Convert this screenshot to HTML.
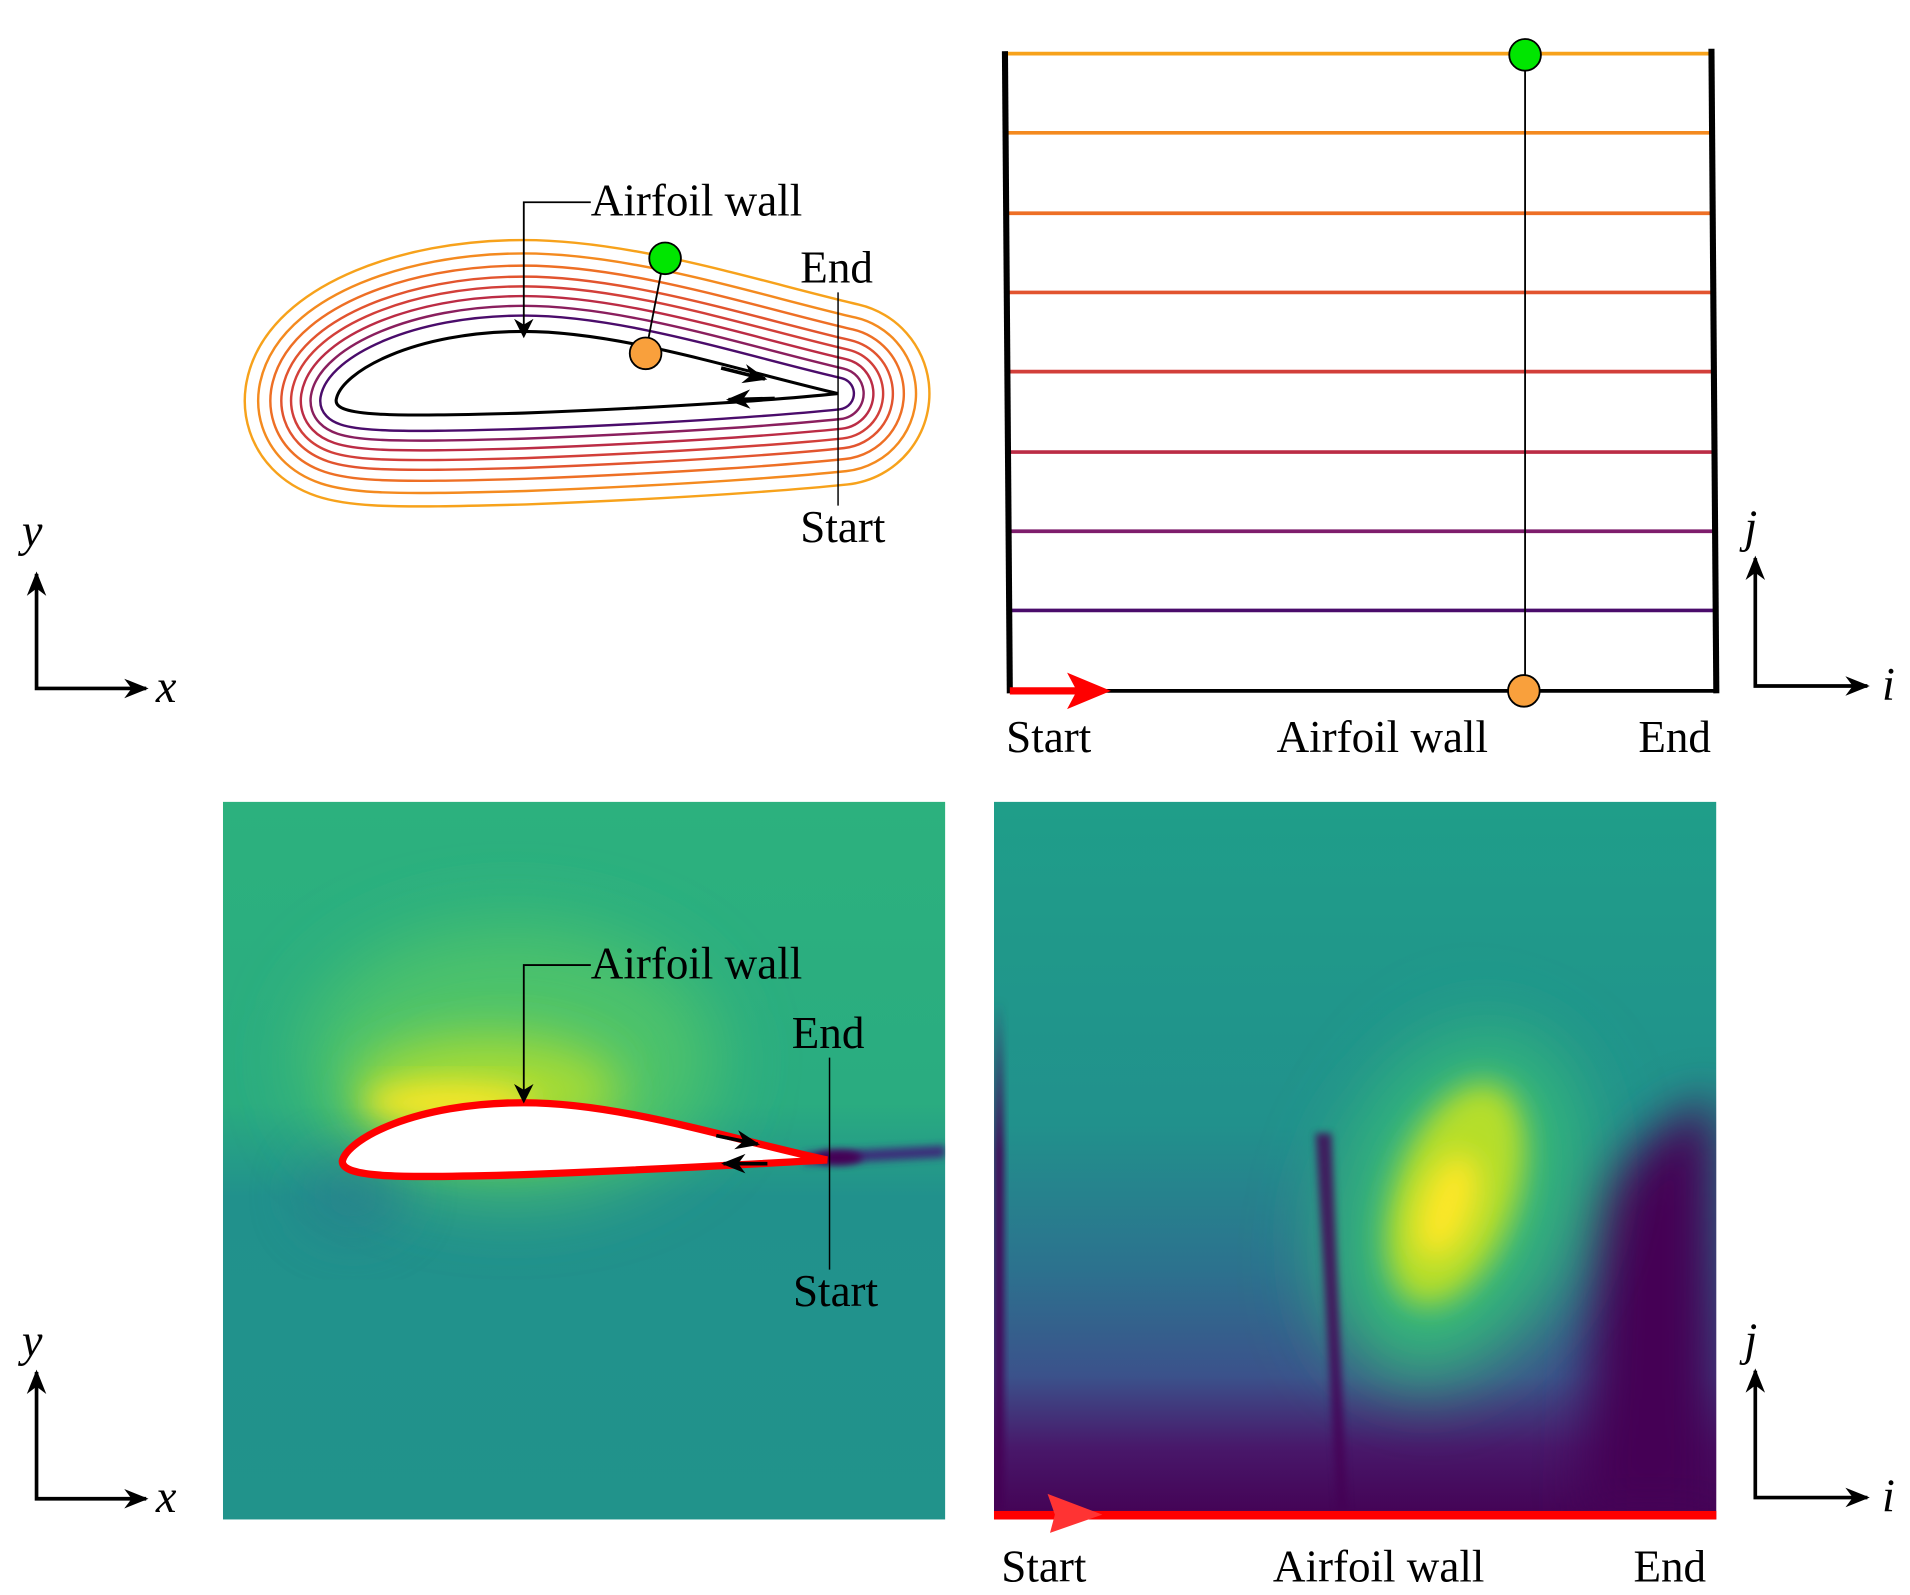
<!DOCTYPE html>
<html><head><style>html,body{margin:0;padding:0;background:#fff}svg{display:block}</style></head>
<body>
<svg width="1910" height="1595" viewBox="0 0 1568 1309" preserveAspectRatio="none" xmlns="http://www.w3.org/2000/svg" style="font-family:'Liberation Serif',serif">
<defs>
<path id="af" d="M688,323 C610,305 510,272 430,272 C340,272 280,305 276,328 C274,342 320,342 430,339 C560,334 650,327 688,323 Z"/>
<path id="af2" d="M679,952 C600,935 510,905 430,905 C340,905 285,935 281,953 C281,967 330,967 430,964 C560,959 640,954 679,952 Z"/>
<marker id="ah" viewBox="0 0 10 10" refX="9" refY="5" markerWidth="20" markerHeight="20" orient="auto-start-reverse" markerUnits="userSpaceOnUse"><path d="M0,1 L10,5 L0,9 L3,5z" fill="#000"/></marker>
<marker id="ah2" viewBox="0 0 10 10" refX="9" refY="5" markerWidth="16" markerHeight="16" orient="auto-start-reverse" markerUnits="userSpaceOnUse"><path d="M0,0 L10,5 L0,10 L3,5z" fill="#000"/></marker>
<filter id="b1" x="-50%" y="-50%" width="200%" height="200%"><feGaussianBlur stdDeviation="30"/></filter>
<filter id="b2" x="-50%" y="-50%" width="200%" height="200%"><feGaussianBlur stdDeviation="12"/></filter>
<filter id="b4" x="-50%" y="-50%" width="200%" height="200%"><feGaussianBlur stdDeviation="20"/></filter>
<filter id="b3" x="-50%" y="-50%" width="200%" height="200%"><feGaussianBlur stdDeviation="3"/></filter>
<clipPath id="cL"><rect x="183" y="658" width="593" height="589"/></clipPath>
<clipPath id="cR"><rect x="816" y="658" width="593" height="589"/></clipPath>
<linearGradient id="gL" x1="0" y1="0" x2="0" y2="1"><stop offset="0" stop-color="#2cb17e"/><stop offset="0.42" stop-color="#2aac80"/><stop offset="0.55" stop-color="#21918c"/><stop offset="1" stop-color="#21938b"/></linearGradient>
<linearGradient id="gR" x1="0" y1="0" x2="0" y2="1"><stop offset="0" stop-color="#1f9e89"/><stop offset="0.45" stop-color="#21918c"/><stop offset="0.65" stop-color="#2c728e"/><stop offset="0.8" stop-color="#3b528b"/><stop offset="0.9" stop-color="#48186a"/><stop offset="1" stop-color="#440154"/></linearGradient>
<linearGradient id="gS" x1="0" y1="0" x2="0" y2="1"><stop offset="0" stop-color="#440154" stop-opacity="0"/><stop offset="0.3" stop-color="#440154" stop-opacity="1"/></linearGradient>
</defs>

<g fill="none" stroke-linejoin="round">
<use href="#af" stroke="#f7a21b" stroke-width="152"/><use href="#af" stroke="#fff" stroke-width="148"/>
<use href="#af" stroke="#f48a1f" stroke-width="130"/><use href="#af" stroke="#fff" stroke-width="126"/>
<use href="#af" stroke="#ee6f25" stroke-width="110"/><use href="#af" stroke="#fff" stroke-width="106"/>
<use href="#af" stroke="#e2542f" stroke-width="92"/><use href="#af" stroke="#fff" stroke-width="88"/>
<use href="#af" stroke="#d23f3a" stroke-width="76"/><use href="#af" stroke="#fff" stroke-width="72"/>
<use href="#af" stroke="#bb2c45" stroke-width="60"/><use href="#af" stroke="#fff" stroke-width="56"/>
<use href="#af" stroke="#8a1f5e" stroke-width="44"/><use href="#af" stroke="#fff" stroke-width="40"/>
<use href="#af" stroke="#4a0c6b" stroke-width="28"/><use href="#af" stroke="#fff" stroke-width="24"/>
</g>
<use href="#af" fill="#fff" stroke="#000" stroke-width="2.5"/>
<line x1="592" y1="302" x2="628" y2="311" stroke="#000" stroke-width="3" marker-end="url(#ah)"/>
<line x1="636" y1="327" x2="598" y2="328" stroke="#000" stroke-width="3" marker-end="url(#ah)"/>
<polyline points="485,166 430,166 430,276" fill="none" stroke="#000" stroke-width="1.5" marker-end="url(#ah2)"/>
<text x="485" y="177" font-size="37">Airfoil wall</text>
<text x="657" y="232" font-size="37">End</text>
<text x="657" y="445" font-size="37">Start</text>
<line x1="688" y1="240" x2="688" y2="415" stroke="#000" stroke-width="1.2"/>
<line x1="530" y1="290" x2="545" y2="212" stroke="#000" stroke-width="1.5"/>
<circle cx="530" cy="290" r="13" fill="#f9a03c" stroke="#000" stroke-width="1.5"/>
<circle cx="546" cy="212" r="13" fill="#00e600" stroke="#000" stroke-width="1.5"/>

<g stroke="#000" stroke-width="3" fill="none">
<polyline points="30,471 30,565 120,565" marker-start="url(#ah)" marker-end="url(#ah)"/>
<polyline points="30,1126 30,1230 120,1230" marker-start="url(#ah)" marker-end="url(#ah)"/>
<polyline points="1441,458 1441,563 1533,563" marker-start="url(#ah)" marker-end="url(#ah)"/>
<polyline points="1441,1125 1441,1229 1533,1229" marker-start="url(#ah)" marker-end="url(#ah)"/>
</g>
<g font-size="38" font-style="italic">
<text x="18" y="448">y</text><text x="128" y="576">x</text>
<text x="18" y="1113">y</text><text x="128" y="1241">x</text>
<text x="1432" y="445">j</text><text x="1545" y="574">i</text>
<text x="1432" y="1112">j</text><text x="1545" y="1240">i</text>
</g>

<g stroke-width="3">
<line x1="826" y1="44" x2="1404" y2="44" stroke="#f7a21b"/>
<line x1="826" y1="109" x2="1404" y2="109" stroke="#f48a1f"/>
<line x1="826" y1="175" x2="1404" y2="175" stroke="#ee6f25"/>
<line x1="826" y1="240" x2="1405" y2="240" stroke="#e2542f"/>
<line x1="827" y1="305" x2="1405" y2="305" stroke="#d23f3a"/>
<line x1="827" y1="371" x2="1406" y2="371" stroke="#bb2c45"/>
<line x1="828" y1="436" x2="1406" y2="436" stroke="#7e1d6c"/>
<line x1="828" y1="501" x2="1407" y2="501" stroke="#4a0c6b"/>
</g>
<line x1="829" y1="567" x2="1409" y2="567" stroke="#000" stroke-width="3"/>
<line x1="825" y1="42" x2="829" y2="569" stroke="#000" stroke-width="5"/>
<line x1="1405" y1="40" x2="1409" y2="569" stroke="#000" stroke-width="5"/>
<line x1="1252" y1="45" x2="1252" y2="567" stroke="#000" stroke-width="1.5"/>
<line x1="829" y1="567" x2="890" y2="567" stroke="#f00" stroke-width="6"/>
<path d="M876,552 L912,567 L876,582 L884,567z" fill="#f00"/>
<circle cx="1252" cy="45" r="13" fill="#00e600" stroke="#000" stroke-width="1.5"/>
<circle cx="1251" cy="567" r="13" fill="#f9a03c" stroke="#000" stroke-width="1.5"/>
<g font-size="37"><text x="826" y="617">Start</text><text x="1048" y="617">Airfoil wall</text><text x="1345" y="617">End</text></g>

<g clip-path="url(#cL)">
<rect x="183" y="658" width="593" height="589" fill="url(#gL)"/>
<ellipse cx="420" cy="870" rx="170" ry="110" fill="#4ec36b" filter="url(#b1)"/>
<ellipse cx="400" cy="895" rx="110" ry="45" fill="#a5db36" filter="url(#b4)"/>
<ellipse cx="370" cy="905" rx="70" ry="15" fill="#fde725" filter="url(#b2)"/>
<ellipse cx="290" cy="980" rx="45" ry="35" fill="#2a788e" filter="url(#b4)" opacity="0.5"/>
<path d="M660,946 L776,940 L776,950 L660,956z" fill="#3b2d7a" filter="url(#b3)"/>
<ellipse cx="688" cy="950" rx="20" ry="6" fill="#440154" filter="url(#b3)"/>
</g>
<use href="#af2" fill="#fff" stroke="#f00" stroke-width="6"/>
<line x1="588" y1="932" x2="622" y2="939" stroke="#000" stroke-width="3" marker-end="url(#ah)"/>
<line x1="630" y1="955" x2="594" y2="955" stroke="#000" stroke-width="3" marker-end="url(#ah)"/>
<polyline points="485,792 430,792 430,904" fill="none" stroke="#000" stroke-width="1.5" marker-end="url(#ah2)"/>
<text x="485" y="803" font-size="37">Airfoil wall</text>
<text x="650" y="860" font-size="37">End</text>
<text x="651" y="1072" font-size="37">Start</text>
<line x1="681" y1="868" x2="681" y2="1042" stroke="#000" stroke-width="1.2"/>

<g clip-path="url(#cR)">
<rect x="816" y="658" width="593" height="589" fill="url(#gR)"/>
<path d="M1310,990 Q1340,930 1409,900 L1409,1247 L1300,1247z" fill="#440154" filter="url(#b4)"/>
<ellipse cx="1195" cy="990" rx="100" ry="150" fill="#35b779" filter="url(#b1)" transform="rotate(20 1195 990)"/>
<ellipse cx="1195" cy="980" rx="50" ry="95" fill="#b5de2b" filter="url(#b2)" transform="rotate(20 1195 980)"/>
<ellipse cx="1188" cy="990" rx="22" ry="45" fill="#fde725" filter="url(#b2)" transform="rotate(20 1188 990)"/>
<path d="M1080,930 L1093,930 L1106,1240 L1098,1240z" fill="#440154" filter="url(#b3)" opacity="0.8"/>
<rect x="816" y="820" width="8" height="420" fill="url(#gS)" filter="url(#b3)"/>
</g>
<rect x="816" y="1240" width="593" height="7" fill="#f00"/>
<path d="M860,1226 L905,1243 L862,1258 L866,1243z" fill="#f33"/>
<g font-size="37"><text x="822" y="1298">Start</text><text x="1045" y="1298">Airfoil wall</text><text x="1341" y="1298">End</text></g>
</svg>
</body></html>
